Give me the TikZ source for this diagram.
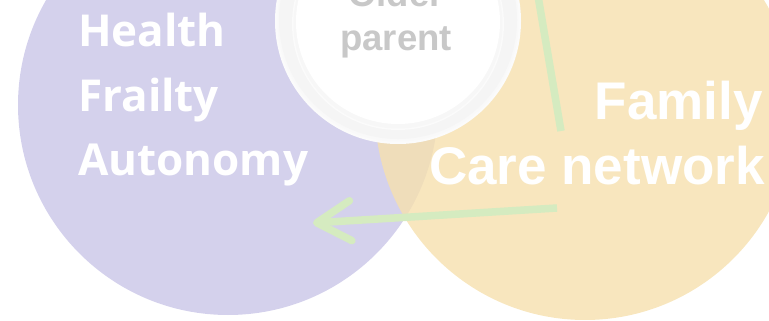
\documentclass[tikz,border=0pt]{standalone}
\usepackage{fontspec}
\setmainfont{Liberation Sans}
\newfontfamily\opensans{Open Sans}
\usetikzlibrary{arrows.meta}
\definecolor{lilac}{HTML}{D4D1EC}
\definecolor{sand}{HTML}{F6E0AE}
\definecolor{mint}{HTML}{D5EBC0}
\definecolor{ash}{HTML}{C8C8C8}
\definecolor{ring}{HTML}{F5F5F5}

\begin{document}
\begin{tikzpicture}[x=1pt,y=-1pt,
    blob/.style={circle, inner sep=0pt, minimum size=#1},
    sidetext/.style={text=white, inner sep=0pt, font=\opensans\bfseries\fontsize{44}{50}\selectfont},
    nettext/.style={text=white, inner sep=0pt, font=\bfseries\fontsize{53}{60}\selectfont},
    centretext/.style={text=ash, inner sep=0pt, font=\bfseries\fontsize{36.5}{40}\selectfont},
    link/.style={mint, line width=7.5pt}]
      \useasboundingbox (0,0) rectangle (769,321);
      \clip (0,0) rectangle (769,321);
      % the two circles
      \node[blob=420pt, fill=lilac] (health) at (228,105) {};
      \node[blob=420pt, fill=sand, fill opacity=0.8] (family) at (585,110) {};
      % older parent in the middle
      \foreach \r/\c in {123/gray!3, 120.5/gray!5}{
        \fill[\c] (398,21) circle (\r);
      }
      \node[blob=238pt, fill=ring] (halo) at (398,20) {};
      \foreach \r/\c in {106/gray!3, 104.5/gray!6}{
        \fill[\c] (398,24) circle (\r);
      }
      \node[blob=204pt, fill=white] (parent) at (398,22) {};
      % connectors
      \coordinate (up1) at (538,-4);
      \coordinate (up2) at (561,131);
      \coordinate (from) at (557,208);
      \coordinate (to) at (313,223);
      \draw[link] (up1) -- (up2);
      \draw[link, -{Straight Barb[length=34pt, width=40pt, round]}] (from) -- (to);
      % labels
      \node[sidetext, anchor=base west] (lhealth) at (78,47) {Health};
      \node[sidetext, anchor=base west] (lfrailty) at (78,112) {Frailty};
      \node[sidetext, anchor=base west] (lautonomy) at (78,175) {Autonomy};
      \node[nettext, anchor=base east] (lfamily) at (763,120) {Family};
      \node[nettext, anchor=base east] (lcare) at (765,184) {Care network};
      \node[centretext, anchor=base] (lolder) at (396,7) {Older};
      \node[centretext, anchor=base] (lparent) at (396,51) {parent};
\end{tikzpicture}
\end{document}
